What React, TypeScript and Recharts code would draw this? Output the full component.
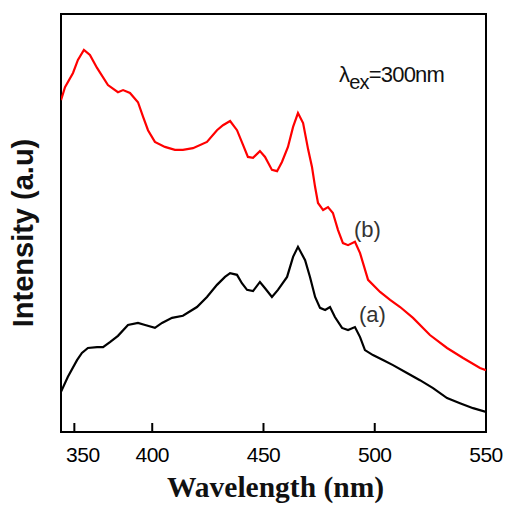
import React from "react";
import { LineChart, Line, XAxis, YAxis, ReferenceArea } from "recharts";

// Spectrum (b) – red
const waveB = [359.0, 360.8, 364.4, 366.6, 369.3, 372.0, 375.2, 380.1, 384.6, 386.9, 390.0, 393.6, 395.9, 398.1, 401.2, 405.7, 410.2, 413.8, 418.3, 424.6, 429.1, 431.8, 435.0, 438.1, 440.8, 443.0, 445.3, 448.4, 450.7, 453.8, 456.1, 458.3, 461.0, 463.3, 465.5, 467.8, 470.1, 471.8, 473.2, 474.5, 476.8, 479.0, 481.2, 483.5, 485.7, 488.0, 491.1, 493.4, 497.0, 502.4, 506.9, 511.4, 517.2, 524.8, 532.5, 539.7, 547.3, 550.0];
const intensityB = [79.4, 82.5, 85.9, 89.0, 91.4, 90.2, 87.1, 83.0, 81.3, 81.8, 81.1, 78.9, 75.4, 72.2, 69.4, 68.2, 67.5, 67.5, 67.9, 69.4, 72.2, 73.4, 74.4, 72.2, 68.7, 65.8, 65.6, 67.2, 65.8, 62.7, 62.4, 64.6, 68.2, 73.0, 76.3, 73.9, 67.5, 63.4, 58.6, 54.8, 53.1, 53.8, 52.4, 48.3, 45.2, 44.7, 45.5, 42.8, 36.4, 33.5, 31.6, 29.9, 27.3, 23.2, 20.1, 17.7, 15.3, 14.8];

// Spectrum (a) – black
const waveA = [359.0, 362.1, 366.2, 368.4, 371.1, 375.2, 377.9, 381.0, 384.6, 389.1, 393.6, 396.8, 401.2, 404.4, 408.9, 413.8, 420.1, 424.6, 429.1, 432.7, 435.0, 438.1, 440.3, 442.6, 445.3, 448.4, 450.7, 453.8, 456.5, 460.6, 463.3, 465.5, 468.7, 470.9, 473.2, 475.4, 477.7, 479.9, 482.1, 485.3, 488.0, 491.1, 493.4, 495.6, 499.2, 503.7, 508.2, 514.5, 520.3, 526.2, 532.5, 538.3, 544.2, 550.0];
const intensityA = [9.6, 13.2, 17.2, 18.9, 20.1, 20.3, 20.3, 21.5, 23.0, 25.6, 26.1, 25.6, 24.9, 26.1, 27.3, 27.8, 29.9, 32.3, 35.2, 37.1, 38.0, 37.6, 35.6, 34.0, 33.7, 35.9, 34.4, 32.3, 34.0, 37.1, 41.9, 44.3, 41.1, 37.1, 32.3, 29.7, 29.2, 29.9, 27.5, 24.9, 24.4, 25.1, 22.7, 19.6, 18.4, 17.2, 16.0, 14.1, 12.4, 10.5, 8.1, 6.9, 5.7, 4.8];

const xTickValues = [365, 400, 450, 500, 550];
const xTickLabels = ["350", "400", "450", "500", "550"];

const dataB = waveB.map((x, i) => ({ x, y: intensityB[i] }));
const dataA = waveA.map((x, i) => ({ x, y: intensityA[i] }));

const SANS = "'Liberation Sans', Arial, sans-serif";
const SERIF = "'Liberation Serif', 'Times New Roman', serif";

const XTick = (props: any) => {
  const { x, y, payload } = props;
  const idx = xTickValues.indexOf(payload.value);
  const label = idx >= 0 ? xTickLabels[idx] : String(payload.value);
  return (
    <g>
      <line x1={x} y1={y} x2={x} y2={y - 9} stroke="#000" strokeWidth={2} />
      <text
        x={x + (idx === 0 ? 8.5 : 0)}
        y={y + 30}
        textAnchor="middle"
        fontFamily={SANS}
        fontSize={21}
        letterSpacing={-0.5}
        fill="#000"
      >
        {label}
      </text>
    </g>
  );
};

const XLabel = (props: any) => {
  const vb = props.viewBox || {};
  return (
    <text
      x={vb.x + vb.width / 2 + 2}
      y={vb.y + 65}
      textAnchor="middle"
      fontFamily={SERIF}
      fontWeight="bold"
      fontSize={29.5}
      fill="#111"
    >
      Wavelength (nm)
    </text>
  );
};

export default function App() {
  return (
    <div style={{ position: "absolute", left: 0, top: 0, width: 507, height: 506, background: "#fff" }}>
      <LineChart
        width={507}
        height={506}
        margin={{ top: 14, right: 21, left: 61, bottom: 0 }}
      >
        <XAxis
          dataKey="x"
          type="number"
          domain={[359, 550]}
          ticks={xTickValues}
          allowDataOverflow
          axisLine={false}
          tickLine={false}
          tickSize={0}
          tickMargin={0}
          height={74}
          tick={<XTick />}
          interval={0}
          label={<XLabel />}
        />
        <YAxis
          type="number"
          domain={[0, 100]}
          width={0}
          tick={false}
          axisLine={false}
          tickLine={false}
        />
        <Line
          data={dataB}
          dataKey="y"
          stroke="#ff0000"
          strokeWidth={2.2}
          dot={false}
          isAnimationActive={false}
          type="linear"
        />
        <Line
          data={dataA}
          dataKey="y"
          stroke="#000000"
          strokeWidth={2.2}
          dot={false}
          isAnimationActive={false}
          type="linear"
        />
        <ReferenceArea
          x1={359}
          x2={550}
          y1={0}
          y2={100}
          fill="none"
          fillOpacity={0}
          stroke="#000"
          strokeWidth={2}
          ifOverflow="visible"
        />
      </LineChart>
      <svg
        width={507}
        height={506}
        style={{ position: "absolute", left: 0, top: 0, pointerEvents: "none" }}
      >
        <text
          x={33}
          y={233}
          transform="rotate(-90 33 233)"
          textAnchor="middle"
          fontFamily={SANS}
          fontWeight="bold"
          fontSize={29}
          fill="#111"
        >
          Intensity (a.u)
        </text>
        <text x={339} y={82} fontFamily={SANS} fontSize={22} fill="#111" letterSpacing={-0.8}>
          λ
          <tspan fontSize={20} dy={7}>ex</tspan>
          <tspan dy={-7}>=300nm</tspan>
        </text>
        <text x={354} y={237} fontFamily={SANS} fontSize={22} fill="#333">
          (b)
        </text>
        <text x={359} y={322} fontFamily={SANS} fontSize={22} fill="#333">
          (a)
        </text>
      </svg>
    </div>
  );
}
